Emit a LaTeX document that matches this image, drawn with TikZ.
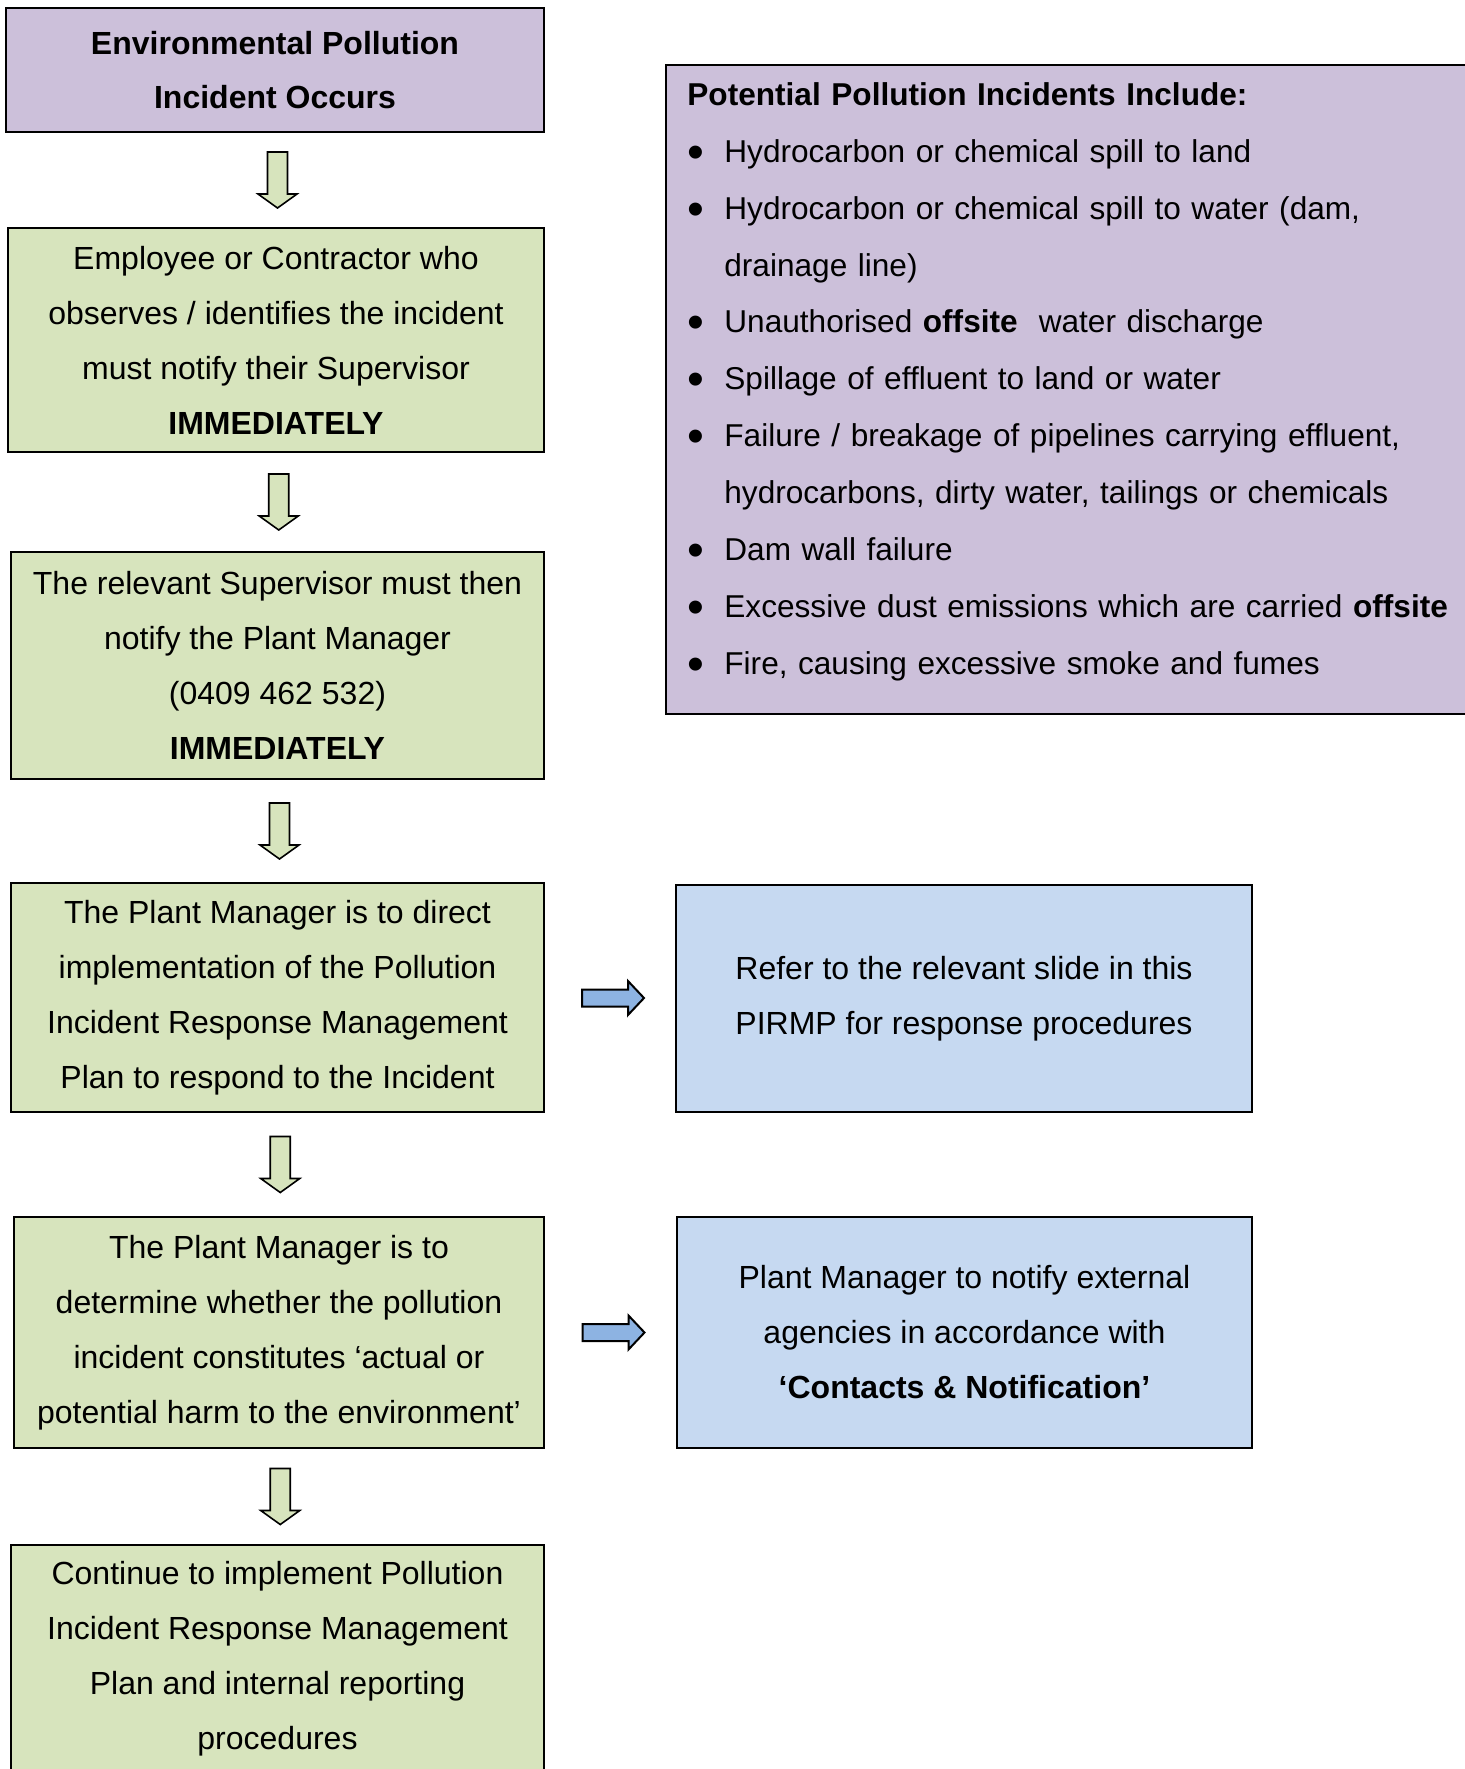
\documentclass[tikz,border=0pt]{standalone}
\usepackage{fontspec}
\setmainfont{Liberation Sans}
\usetikzlibrary{calc}
\definecolor{incpurple}{RGB}{204,192,218}
\definecolor{stepgreen}{RGB}{215,228,189}
\definecolor{refblue}{RGB}{198,217,241}
\definecolor{arrowblue}{RGB}{141,179,226}
\newcommand*{\downblock}[2]{%
\path ($(#1.south)!0.5!(#2.north)$) coordinate (m);
\draw[downarrow] ($(m)+(-8,-28)$) -- ++(20,0) -- ++(0,42) -- ++(9.5,0) -- ++(-19.5,14) -- ++(-19.5,-14) -- ++(9.5,0) -- cycle;}
\newcommand*{\rightblock}[2]{%
\path ($(#1.east)!0.5!(#2.west)$) coordinate (m);
\draw[rightarrow] ($(m)+(-28,-8.5)$) -- ++(46,0) -- ++(0,-8.5) -- ++(16,17) -- ++(-16,17) -- ++(0,-8.5) -- ++(-46,0) -- cycle;}
\newcommand*{\incitem}{\makebox[18.5pt][l]{\raisebox{-3pt}{\fontsize{24}{24}\selectfont\textbullet}}}

\begin{document}
\begin{tikzpicture}[x=0.5pt, y=-0.5pt,
  flowbox/.style={draw=black, line width=1.1pt, inner sep=0pt, align=center, font=\fontsize{16}{27.5}\selectfont},
  stepbox/.style={flowbox, fill=stepgreen},
  refbox/.style={flowbox, fill=refblue},
  downarrow/.style={draw=black, line width=0.8pt, fill=stepgreen},
  rightarrow/.style={draw=black, line width=1pt, fill=arrowblue}]

\useasboundingbox (0,0) rectangle (1464,1769);
\fill[white] (0,0) rectangle (1464,1769);

% left column
\node[flowbox, fill=incpurple, font=\fontsize{16}{27}\selectfont\bfseries, minimum width=269pt, minimum height=62pt] (occurs) at (275,70) {Environmental Pollution\\Incident Occurs};
\node[stepbox, minimum width=268pt, minimum height=112pt] (observe) at (276,340) {Employee or Contractor who\\observes / identifies the incident\\must notify their Supervisor\\\textbf{IMMEDIATELY}};
\node[stepbox, minimum width=266.5pt, minimum height=113.5pt] (supervisor) at (277.5,665.5) {The relevant Supervisor must then\\notify the Plant Manager\\(0409 462 532)\\\textbf{IMMEDIATELY}};
\node[stepbox, minimum width=266.5pt, minimum height=114.5pt] (direct) at (277.5,997.5) {The Plant Manager is to direct\\implementation of the Pollution\\Incident Response Management\\Plan to respond to the Incident};
\node[stepbox, minimum width=265pt, minimum height=115.5pt] (harm) at (279,1332.5) {The Plant Manager is to\\determine whether the pollution\\incident constitutes ‘actual or\\potential harm to the environment’};
\node[stepbox, minimum width=266.5pt, minimum height=114pt] (continue) at (277.5,1659) {Continue to implement Pollution\\Incident Response Management\\Plan and internal reporting\\procedures};

% right column
\node[flowbox, fill=incpurple, anchor=north west, minimum width=402.5pt, minimum height=324.5pt] (incidents) at (665,64) {};
\node[anchor=north west, inner sep=0pt, text width=400pt, align=left, font=\fontsize{15.8}{28.45}\selectfont] (inclist) at ($(incidents.north west)+(22,18)$) {%
\textbf{Potential Pollution Incidents Include:}\\
\incitem Hydrocarbon or chemical spill to land\\
\incitem Hydrocarbon or chemical spill to water (dam,\\
\hspace*{18.5pt}drainage line)\\
\incitem Unauthorised \textbf{offsite} \ water discharge\\
\incitem Spillage of effluent to land or water\\
\incitem Failure / breakage of pipelines carrying effluent,\\
\hspace*{18.5pt}hydrocarbons, dirty water, tailings or chemicals\\
\incitem Dam wall failure\\
\incitem Excessive dust emissions which are carried \textbf{offsite}\\
\incitem Fire, causing excessive smoke and fumes};
\node[refbox, minimum width=288pt, minimum height=113.5pt] (slide) at (964,998.5) {Refer to the relevant slide in this\\PIRMP for response procedures};
\node[refbox, minimum width=287.5pt, minimum height=115.5pt] (notify) at (964.5,1332.5) {Plant Manager to notify external\\agencies in accordance with\\\textbf{‘Contacts \& Notification’}};

% arrows
\downblock{occurs}{observe}
\downblock{observe}{supervisor}
\downblock{supervisor}{direct}
\downblock{direct}{harm}
\downblock{harm}{continue}
\rightblock{direct}{slide}
\rightblock{harm}{notify}

\end{tikzpicture}
\end{document}
